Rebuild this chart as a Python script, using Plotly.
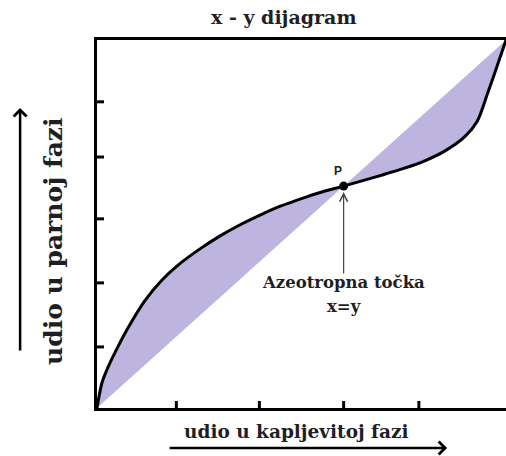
import plotly.graph_objects as go

# Data
x_liq = [0, 0.012, 0.027, 0.051, 0.076, 0.118, 0.159, 0.199, 0.25, 0.30, 0.35, 0.40,
         0.45, 0.50, 0.55, 0.603, 0.65, 0.70, 0.75, 0.80, 0.85, 0.90, 0.93, 0.955, 0.98, 1.0]
y_vap = [0, 0.068, 0.111, 0.166, 0.218, 0.293, 0.348, 0.389, 0.431, 0.467, 0.498, 0.525,
         0.549, 0.569, 0.587, 0.603, 0.618, 0.634, 0.651, 0.671, 0.698, 0.738, 0.780, 0.855, 0.935, 1.0]
az_x = [0.603]
az_y = [0.603]
x_ticks = [0.194, 0.397, 0.603, 0.787]
y_ticks = [0.166, 0.340, 0.514, 0.682, 0.832]

SERIF = "DejaVu Serif"
TXT = "#1e1e24"

fig = go.Figure()
# shaded region between curve and diagonal (polygon closes along the diagonal)
fig.add_trace(go.Scatter(x=x_liq, y=y_vap, mode="lines", fill="toself",
                         fillcolor="#bdb5df", line=dict(width=0, shape="spline", smoothing=0.8),
                         hoverinfo="skip", showlegend=False))
# equilibrium curve
fig.add_trace(go.Scatter(x=x_liq, y=y_vap, mode="lines",
                         line=dict(color="black", width=3, shape="spline", smoothing=0.8),
                         showlegend=False))
# azeotrope point
fig.add_trace(go.Scatter(x=az_x, y=az_y, mode="markers",
                         marker=dict(color="black", size=9), showlegend=False))

shapes = []
for t in x_ticks:
    shapes.append(dict(type="line", xref="x", yref="y", x0=t, x1=t,
                       ysizemode="pixel", yanchor=0, y0=-7, y1=7,
                       line=dict(color="black", width=3)))
for t in y_ticks:
    shapes.append(dict(type="line", xref="x", yref="y", y0=t, y1=t,
                       xsizemode="pixel", xanchor=0, x0=-7, x1=7,
                       line=dict(color="black", width=3)))

annotations = [
    dict(text="<b>x - y dijagram</b>", xref="paper", yref="paper", x=0.457, y=1.0625,
         showarrow=False, font=dict(family=SERIF, size=19, color=TXT), xanchor="center", yanchor="middle"),
    dict(text="<b>udio u kapljevitoj fazi</b>", xref="paper", yref="paper", x=0.487, y=-0.065,
         showarrow=False, font=dict(family=SERIF, size=18.5, color=TXT), xanchor="center", yanchor="middle"),
    dict(text="<b>udio u parnoj fazi</b>", xref="paper", yref="paper", x=-0.105, y=0.454,
         textangle=-90, showarrow=False, font=dict(family=SERIF, size=25, color=TXT),
         xanchor="center", yanchor="middle"),
    # axis arrows
    dict(text="", xref="paper", yref="paper", x=-0.188, y=0.815, ax=0, ay=244,
         showarrow=True, arrowhead=4, arrowsize=1, arrowwidth=2.5, arrowcolor="black"),
    dict(text="", xref="paper", yref="paper", x=0.856, y=-0.109, ax=-279, ay=0,
         showarrow=True, arrowhead=4, arrowsize=1, arrowwidth=2.5, arrowcolor="black"),
    # pointer to azeotrope
    dict(text="", xref="x", yref="y", x=az_x[0], y=az_y[0], ax=0, ay=89, standoff=6,
         showarrow=True, arrowhead=5, arrowsize=1.3, arrowwidth=1.2, arrowcolor="#444"),
    dict(text="<b>Azeotropna točka</b>", xref="x", yref="y", x=az_x[0], y=az_y[0],
         yshift=-96, showarrow=False, font=dict(family=SERIF, size=16.5, color=TXT)),
    dict(text="<b>x=y</b>", xref="x", yref="y", x=az_x[0], y=az_y[0],
         yshift=-120, showarrow=False, font=dict(family=SERIF, size=16.5, color=TXT)),
    dict(text="<b>P</b>", xref="x", yref="y", x=az_x[0], y=az_y[0],
         xshift=-6, yshift=15, showarrow=False, font=dict(family="Arial, Liberation Sans", size=12, color=TXT)),
]

fig.update_layout(
    width=506, height=456,
    margin=dict(l=97, r=0, t=40, b=48),
    paper_bgcolor="white", plot_bgcolor="white",
    shapes=shapes, annotations=annotations,
    xaxis=dict(range=[0, 1], showgrid=False, zeroline=False, showticklabels=False,
               ticks="", showline=True, mirror=True, linecolor="black", linewidth=3,
               fixedrange=True),
    yaxis=dict(range=[0, 1], showgrid=False, zeroline=False, showticklabels=False,
               ticks="", showline=True, mirror=False, linecolor="black", linewidth=3,
               fixedrange=True),
)

fig.write_html("out.html", config={"displayModeBar": False},
               post_script="document.body.style.margin='0';document.body.style.overflow='hidden';")
